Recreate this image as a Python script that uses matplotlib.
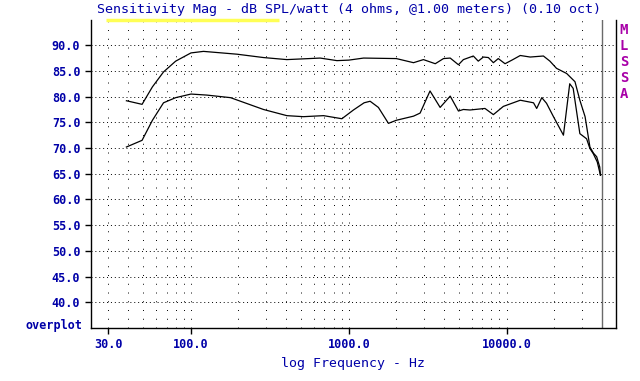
import matplotlib
matplotlib.use("Agg")
import matplotlib.pyplot as plt

# response curves (Hz, dB SPL/W)
freq_upper = [39, 49, 57, 67, 80, 100, 120, 196, 288, 405, 659, 841, 1000, 1240,
              2000, 2570, 2970, 3530, 3980, 4390, 4950, 5320, 6150, 6610, 7120,
              7660, 8240, 8850, 9770, 10800, 12200, 14100, 17100, 18800, 20700,
              24000, 27100, 29100, 31400, 33700, 35500, 37200, 38900, 39300]
db_upper = [79.2, 78.5, 81.9, 84.8, 86.9, 88.5, 88.8, 88.25, 87.6, 87.2, 87.5, 87.0, 87.1, 87.5,
            87.4, 86.6, 87.2, 86.4, 87.4, 87.5, 86.2, 87.2, 87.9, 86.9, 87.7,
            87.6, 86.6, 87.4, 86.4, 87.1, 88.0, 87.7, 87.9, 86.9, 85.5,
            84.5, 82.9, 79.3, 76.1, 70.2, 69.0, 68.3, 66.3, 64.7]

freq_lower = [39, 49, 57, 67, 80, 100, 126, 178, 288, 405, 516, 692, 904, 1070, 1250,
              1365, 1540, 1783, 2000, 2570, 2830, 3270, 3790, 4390, 4950, 5320,
              5860, 7290, 8240, 9530, 12200, 14800, 15500, 16700, 17900, 19800,
              22900, 25100, 26400, 29100, 32100, 33700, 35400, 37500, 39300]
db_lower = [70.2, 71.5, 75.4, 78.8, 79.8, 80.5, 80.3, 79.8, 77.5, 76.3, 76.1, 76.3, 75.7, 77.4, 78.8,
            79.1, 77.9, 74.8, 75.4, 76.2, 76.8, 81.1, 77.9, 80.1, 77.2, 77.5,
            77.4, 77.7, 76.5, 78.1, 79.3, 78.8, 77.7, 79.8, 78.7, 76.1,
            72.5, 82.5, 81.6, 72.8, 71.8, 69.9, 68.9, 67.3, 64.7]

y_ticks = [40, 45, 50, 55, 60, 65, 70, 75, 80, 85, 90]
x_ticks = [30, 100, 1000, 10000]
x_ticklabels = ["30.0", "100.0", "1000.0", "10000.0"]
x_grid = [30, 40, 50, 60, 70, 80, 90, 100, 200, 300, 400, 500, 600, 700, 800, 900,
          1000, 2000, 3000, 4000, 5000, 6000, 7000, 8000, 9000, 10000, 20000, 30000]

blue = "#0000a8"
magenta = "#a800a8"
mono = "DejaVu Sans Mono"

fig = plt.figure(figsize=(6.4, 3.81), dpi=100)
ax = fig.add_axes([91.4 / 640, 1 - 328 / 381, 524.6 / 640, 308.5 / 381])

ax.set_xscale("log")
ax.set_xlim(23.4, 49300)
ax.set_ylim(35, 95)

for yv in y_ticks:
    ax.axhline(yv, color="black", lw=0.7, dashes=(1.0, 3.0), zorder=1)
for xv in x_grid:
    ax.axvline(xv, color="black", lw=0.7, dashes=(1.0, 8.0), zorder=1)
ax.axvline(40000, color="#6a6a6a", lw=1.0, zorder=1)

ax.plot(freq_upper, db_upper, color="black", lw=0.9, zorder=3)
ax.plot(freq_lower, db_lower, color="black", lw=0.9, zorder=3)

ax.set_yticks(y_ticks)
ax.set_yticklabels([f"{v:.1f}" for v in y_ticks])
ax.set_xticks(x_ticks)
ax.set_xticklabels(x_ticklabels)
ax.minorticks_off()
ax.tick_params(axis="both", direction="out", length=4, width=1, colors="black",
               labelcolor=blue)
ax.tick_params(axis="y", pad=4)
ax.tick_params(axis="x", pad=3)
for lab in ax.get_yticklabels() + ax.get_xticklabels():
    lab.set_fontfamily(mono)
    lab.set_fontweight("bold")
    lab.set_fontsize(8.5)

ax.spines["top"].set_visible(False)
for s in ("left", "bottom", "right"):
    ax.spines[s].set_linewidth(1.0)

# yellow marker bar under the title
ax.plot([0.028, 0.358], [0.997, 0.997], transform=ax.transAxes, color="#ffff55",
        lw=2.5, clip_on=False, solid_capstyle="butt", zorder=4)

fig.text(349 / 640, 1 - 10 / 381, "Sensitivity Mag - dB SPL/watt (4 ohms, @1.00 meters) (0.10 oct)",
         ha="center", va="center", color=blue, family=mono, fontsize=9.6)
fig.text(353 / 640, 1 - 364 / 381, "log Frequency - Hz", ha="center", va="center",
         color=blue, family=mono, fontsize=9.5)
fig.text(82 / 640, 1 - 325 / 381, "overplot", ha="right", va="center", color=blue,
         family=mono, fontweight="bold", fontsize=8.5)

for i, ch in enumerate("MLSSA"):
    fig.text(624 / 640, 1 - (30 + 16 * i) / 381, ch, ha="center", va="center",
             color=magenta, family=mono, fontweight="bold", fontsize=10)

fig.savefig("out.png", dpi=100, facecolor="white")
